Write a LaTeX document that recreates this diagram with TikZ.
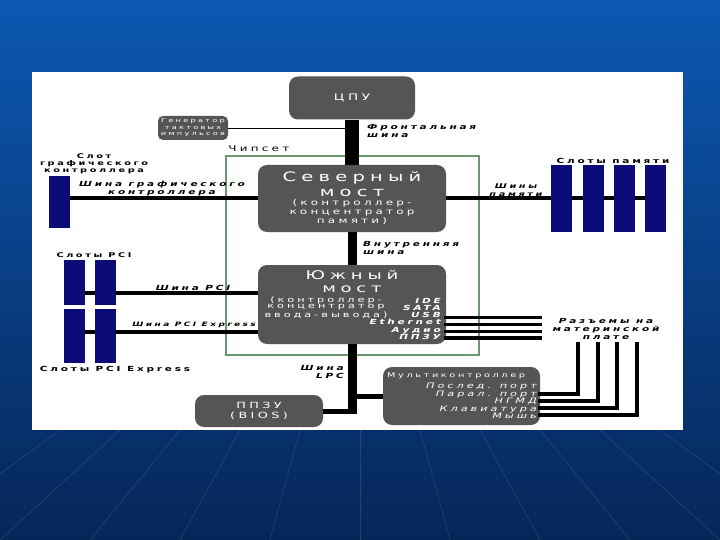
\documentclass[tikz,border=0pt]{standalone}
\usepackage{fontspec}
\setmainfont[FakeStretch=1.5,LetterSpace=40]{DejaVu Sans}
\usepackage{tikz}
\usepackage{xcolor}
\definecolor{boxgray}{RGB}{85, 85, 85}
\definecolor{slotblue}{RGB}{12, 12, 120}
\definecolor{chipgreen}{RGB}{110, 150, 110}
\definecolor{bgtop}{RGB}{12, 88, 178}
\definecolor{bgbot}{RGB}{6, 38, 88}
\tikzset{
    graybox/.style={fill=boxgray, rounded corners=9pt, text=white, align=center, inner sep=0pt},
    slotbar/.style={fill=slotblue, draw=none, inner sep=0pt, minimum width=21},
    chipframe/.style={draw=chipgreen, line width=1.5pt, inner sep=0pt},
    fsbbus/.style={line width=14pt, color=black},
    innerbus/.style={line width=9pt, color=black},
    lpcbranch/.style={line width=5pt, color=black},
    slotbus/.style={line width=4pt, color=black},
    hdrline/.style={line width=3.5pt, color=black},
    plugline/.style={line width=4.5pt, color=black},
    clkline/.style={line width=0.8pt, color=black},
    streak/.style={line width=0.6pt, color=white, opacity=0.12},
    buslabel/.style={font=\fontsize{7}{8}\selectfont\bfseries\itshape, align=center, inner sep=0pt},
    slotlabel/.style={font=\fontsize{6.5}{7}\selectfont\bfseries, align=center, inner sep=0pt},
    boxtitle/.style={font=\fontsize{13}{13}\selectfont, text=white, inner sep=0pt},
    boxsmall/.style={font=\fontsize{7.5}{6.2}\selectfont, text=white, align=center, inner sep=0pt},
    boxitalic/.style={font=\fontsize{7}{7.2}\selectfont\bfseries\itshape, text=white, align=right, inner sep=0pt}
}

\begin{document}
\begin{tikzpicture}[x=1pt, y=-1pt]
        \useasboundingbox (0,0) rectangle (720,540);
        \shade[top color=bgtop, bottom color=bgbot] (0,0) rectangle (720,540);
        \foreach \s in {-300,-240,...,300}
            \draw[streak] (360+\s,430) -- (360+1.5*\s,540);
        \fill[white] (32,72) rectangle (683,430);

        % chipset
        \node[chipframe, minimum width=253, minimum height=199] (chip) at (352.5,255.5) {};
        \node[font=\fontsize{8}{8}\selectfont, inner sep=0pt, anchor=south west] (chiplabel) at ([xshift=3pt, yshift=3pt]chip.north west) {Чипсет};

        % blocks
        \node[graybox, minimum width=126, minimum height=43, font=\fontsize{9}{9}\selectfont] (cpu) at (352,98) {ЦПУ};
        \node[graybox, rounded corners=5pt, minimum width=70, minimum height=24, font=\fontsize{5.5}{6.5}\selectfont] (clk) at (193,128) {Генератор\\тактовых\\импульсов};
        \node[graybox, minimum width=188, minimum height=67] (nb) at (352,198.5) {};
        \node[graybox, minimum width=188, minimum height=79] (sb) at (352,304.5) {};
        \node[graybox, minimum width=128, minimum height=32, font=\fontsize{8.5}{10}\selectfont] (bios) at (259,411) {ППЗУ\\(BIOS)};
        \node[graybox, minimum width=157, minimum height=58] (mc) at (461.5,396) {};

        \node[boxtitle] (nbtitle) at (352,178) {Северный};
        \node[boxtitle] (nbtitle2) at (352,193) {мост};
        \node[boxsmall, font=\fontsize{8}{9}\selectfont] (nbsub) at (352,212) {(контроллер-\\концентратор\\памяти)};
        \node[boxtitle, font=\fontsize{12}{12}\selectfont] (sbtitle) at (352,275) {Южный};
        \node[boxtitle, font=\fontsize{12}{12}\selectfont] (sbtitle2) at (352,289) {мост};
        \node[boxsmall] (sbsub) at (326,307.5) {(контроллер-\\концентратор\\ввода-вывода)};
        \node[boxitalic, anchor=north east] (sbports) at (441,298) {IDE\\SATA\\USB\\Ethernet\\Аудио\\ППЗУ};
        \node[boxsmall, font=\fontsize{6.5}{6.5}\selectfont, anchor=north west] (mctitle) at (387,373) {Мультиконтроллер};
        \node[boxitalic, font=\fontsize{7.5}{7.5}\selectfont\itshape, anchor=north east] (mcports) at (537,383) {Послед. порт\\Парал. порт\\НГМД\\Клавиатура\\Мышь};

        % buses
        \draw[clkline] (clk.east) -- (clk.east -| cpu.south);
        \draw[fsbbus] (cpu.south) -- (nb.north);
        \draw[innerbus] (nb.south) -- (sb.north);

        \coordinate (memend) at (655,198.5);
        \draw[slotbus] (nb.east) -- (memend);
        \coordinate (pcitap) at (75,293);
        \draw[slotbus] (pcitap) -- (pcitap -| sb.west);
        \coordinate (pcietap) at (75,332);
        \draw[slotbus] (pcietap) -- (pcietap -| sb.west);

        \foreach \y [count=\i] in {317.5,324.5,331.5,338} {
            \coordinate (sbout\i) at (444,\y);
            \coordinate (hdr\i) at (542,\y);
            \draw[hdrline] (sbout\i) -- (hdr\i);
        }

        \draw[innerbus, shorten >=-2.5pt] (sb.south) -- (sb.south |- bios.east);
        \draw[lpcbranch] (bios.east) -- (bios.east -| sb.south);
        \draw[lpcbranch] (mc.west) -- (mc.west -| sb.south);

        \foreach \y/\x [count=\i] in {394/578,401/598,408/617,415/637} {
            \coordinate (mcout\i) at (538,\y);
            \coordinate (plug\i) at (\x,342);
            \draw[plugline] (mcout\i) -| (plug\i);
        }

        % slots
        \node[slotbar, minimum height=52] (gslot) at (59.5,202) {};
        \draw[slotbus] (nb.west) -- (nb.west -| gslot.east);
        \node[slotbar, minimum height=67] (mem1) at (561.5,198.5) {};
        \node[slotbar, minimum height=67] (mem2) at (593.5,198.5) {};
        \node[slotbar, minimum height=67] (mem3) at (624.5,198.5) {};
        \node[slotbar, minimum height=67] (mem4) at (655.5,198.5) {};
        \node[slotbar, minimum height=45] (pci1) at (74.5,282.5) {};
        \node[slotbar, minimum height=45] (pci2) at (105.5,282.5) {};
        \node[slotbar, minimum height=54] (pcie1) at (74.5,336) {};
        \node[slotbar, minimum height=54] (pcie2) at (105.5,336) {};

        % labels
        \node[buslabel, align=left, anchor=west] (fsblabel) at (367,131) {Фронтальная\\шина};
        \node[slotlabel] (gslotlabel) at (94,164) {Слот\\графического\\контроллера};
        \node[buslabel] (gbuslabel) at (162,189) {Шина графического\\контроллера};
        \node[slotlabel, font=\fontsize{7}{7}\selectfont\bfseries] (memlabel) at (613,161) {Слоты памяти};
        \node[buslabel, font=\fontsize{6.5}{8}\selectfont\bfseries\itshape] (membuslabel) at (516,190) {Шины\\памяти};
        \node[buslabel, align=left, anchor=west] (innerlabel) at (363,248) {Внутренняя\\шина};
        \node[slotlabel] (pcilabel) at (94,255) {Слоты PCI};
        \node[buslabel] (pcibuslabel) at (193,288) {Шина PCI};
        \node[buslabel, font=\fontsize{6}{7}\selectfont\bfseries\itshape, anchor=east] (pciebuslabel) at (256,325) {Шина PCI Express};
        \node[slotlabel, font=\fontsize{7}{7}\selectfont\bfseries] (pcielabel) at (115,370) {Слоты PCI Express};
        \node[buslabel] (hdrlabel) at (606,329) {Разъемы на\\материнской\\плате};
        \node[buslabel, align=right, anchor=east] (lpclabel) at (344,372) {Шина\\LPC};

    \end{tikzpicture}
\end{document}
